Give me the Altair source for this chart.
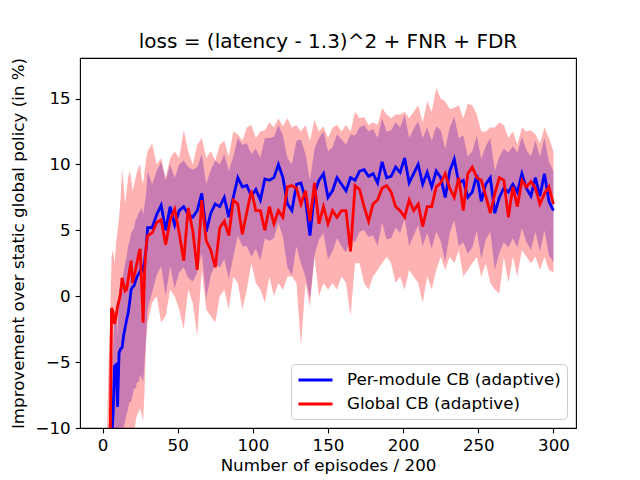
import altair as alt
import pandas as pd

# Episode index (x 200 episodes); finer steps where the curves climb steeply
episodes = list(range(1, 31)) + list(range(33, 301, 3))

# Per-module contextual bandit: mean improvement and its spread
per_module_mean = [
    -30, -26, -22, -18, -14, -11, -9, -5.3, -5.2, -8.4,
    -4.3, -4.0, -3.9, -3.0, -2.4, -1.8, -1.3, -0.5, 0.5, 0.7,
    0.8, 1.2, 1.5, 1.7, 1.9, 2.2, 2.0, 2.7, 3.6, 5.2,
    5.2, 6.2, 6.9, 5.0, 6.8, 5.4, 6.5, 6.8, 6.2, 6.0,
    6.5, 7.8, 4.9, 6.3, 7.0, 6.8, 7.5, 6.0, 7.5, 9.0,
    8.3, 8.4, 7.6, 8.1, 7.3, 8.9, 8.8, 9.0, 10.0, 9.0,
    7.0, 6.5, 8.5, 8.6, 7.4, 4.6, 7.8, 8.8, 9.3, 7.5,
    8.0, 9.0, 8.5, 8.0, 9.0, 8.8, 9.5, 9.6, 9.1, 9.3,
    8.6, 10.2, 9.0, 9.1, 9.8, 9.4, 10.5, 8.6, 9.3, 10.0,
    8.5, 9.4, 8.3, 9.5, 9.0, 7.5, 9.5, 10.4, 8.6, 8.8,
    7.5, 7.9, 9.2, 7.2, 8.5, 9.0, 6.3, 7.5, 8.2, 7.9,
    8.5, 7.9, 9.3, 8.2, 7.6, 9.0, 7.6, 9.3, 7.2, 6.5,
]
per_module_hi = [
    -24, -20, -16, -12, -9, -6, -4, -1.5, -1.0, -3.0,
    0.5, 0.8, 1.0, 1.8, 2.5, 3.0, 3.8, 4.2, 4.8, 5.0,
    5.2, 5.8, 6.0, 6.3, 6.5, 6.7, 6.2, 7.0, 7.8, 9.5,
    8.5, 9.5, 10.2, 8.8, 10.0, 9.0, 10.0, 10.3, 9.8, 9.6,
    9.8, 10.8, 8.5, 9.6, 10.3, 10.0, 10.8, 9.5, 10.6, 12.0,
    11.5, 11.6, 10.8, 11.2, 10.5, 12.0, 12.0, 12.1, 13.0, 12.2,
    10.5, 10.0, 11.8, 11.9, 10.8, 8.8, 11.2, 12.0, 12.5, 11.0,
    11.3, 12.3, 11.9, 11.5, 12.3, 12.2, 12.8, 13.0, 12.5, 12.7,
    12.0, 13.5, 12.5, 12.6, 13.2, 12.8, 13.8, 12.0, 12.7, 13.3,
    12.0, 12.8, 11.8, 12.9, 12.6, 11.2, 12.8, 13.6, 12.0, 12.2,
    10.6, 11.0, 12.2, 10.4, 11.4, 12.0, 9.5, 10.6, 11.2, 10.9,
    11.4, 10.9, 12.1, 11.1, 10.6, 11.8, 10.6, 12.0, 10.2, 9.5,
]
per_module_lo = [
    -36, -32, -28, -24, -20, -16, -14, -12, -12, -14,
    -11.5, -11, -10.5, -10, -9.5, -9, -8.5, -8, -8, -7.5,
    -7, -7, -6.5, -6.5, -6.0, -6.2, -6.5, -5, -3, -1,
    0.3, 1.6, 2.3, 0.0, 2.3, 0.6, 1.8, 2.2, 1.4, 1.1,
    1.8, 3.3, -0.2, 1.6, 2.4, 2.2, 2.8, 1.3, 3.0, 4.6,
    3.8, 3.8, 3.0, 3.6, 2.7, 4.4, 4.2, 4.4, 5.6, 4.5,
    2.2, 1.6, 3.8, 2.5, 1.5, -0.2, 3.1, 4.3, 4.8, 2.8,
    3.4, 4.4, 3.8, 3.3, 4.4, 4.1, 4.9, 5.0, 4.5, 4.6,
    3.8, 5.6, 4.3, 4.4, 5.2, 4.8, 5.9, 3.8, 4.6, 5.4,
    3.8, 4.8, 3.6, 4.9, 4.2, 2.6, 4.8, 5.8, 3.8, 4.1,
    3.2, 3.7, 5.0, 2.8, 4.3, 4.9, 2.0, 3.3, 4.1, 3.7,
    4.4, 3.7, 5.2, 4.1, 3.5, 4.9, 3.4, 5.0, 3.1, 2.6,
]

# Global contextual bandit: mean improvement and its spread
global_mean = [
    -32, -27, -22, -17, -12, -0.9, -1.2, -2.1, -1.5, -0.8,
    -0.3, 0.2, 1.4, 0.9, 0.4, 0.5, 1.2, 2.0, 2.7, 1.0,
    1.6, 2.0, 2.6, 3.2, 3.6, 1.0, -2.0, 2.0, 3.8, 4.6,
    4.8, 5.6, 5.8, 3.9, 5.8, 6.6, 4.8, 2.7, 6.7, 5.0,
    2.0, 7.3, 4.2, 3.5, 2.2, 5.2, 5.7, 4.6, 7.3, 7.0,
    4.7, 6.4, 8.0, 6.5, 6.5, 5.0, 6.8, 5.5, 6.5, 6.0,
    8.3, 8.4, 8.2, 7.0, 8.0, 5.7, 8.6, 5.5, 6.8, 5.5,
    6.5, 6.0, 6.5, 6.5, 3.4, 8.4, 8.1, 6.8, 5.7, 7.0,
    7.3, 8.2, 8.4, 7.9, 6.8, 6.5, 6.0, 7.3, 6.5, 7.0,
    5.3, 6.8, 6.8, 8.3, 8.6, 9.3, 8.2, 7.5, 9.0, 6.5,
    9.3, 9.8, 9.0, 8.8, 7.6, 6.3, 7.8, 9.0, 8.8, 6.0,
    8.3, 6.8, 8.8, 8.3, 8.7, 8.2, 7.0, 7.8, 8.3, 7.0,
]
global_hi = [
    -20, -15, -10, -5, -2, 3.0, 3.5, 2.5, 4.0, 5.0,
    6.0, 7.5, 9.7, 8.5, 7.0, 8.0, 9.0, 9.5, 9.0, 8.0,
    8.5, 9.0, 9.5, 9.8, 10.0, 9.0, 8.5, 9.5, 10.5, 11.0,
    11.6, 10.0, 10.5, 9.0, 10.5, 11.0, 10.5, 12.6, 11.0, 10.0,
    11.5, 12.0, 10.5, 11.0, 10.3, 11.5, 11.8, 10.6, 12.5, 12.3,
    11.8, 12.8, 13.0, 12.0, 12.5, 12.6, 13.2, 12.8, 13.5, 12.9,
    13.5, 12.8, 13.0, 12.5, 13.0, 11.8, 13.4, 12.5, 12.9, 12.0,
    12.8, 13.0, 12.5, 13.0, 12.5, 14.0, 13.5, 13.6, 13.0, 13.2,
    13.0, 14.3, 13.8, 13.5, 13.8, 13.8, 14.0, 13.5, 14.0, 14.5,
    13.2, 14.8, 14.0, 15.8, 15.0, 14.8, 14.2, 14.3, 14.5, 13.5,
    14.6, 14.5, 13.8, 12.5, 12.5, 12.8, 12.8, 13.2, 13.0, 12.0,
    12.5, 11.5, 12.8, 12.5, 12.6, 12.3, 11.6, 12.8, 12.0, 11.0,
]
global_lo = [
    -45, -40, -35, -30, -25, -14, -15, -16, -15, -16,
    -14, -13, -13, -12.5, -12, -11.5, -11, -10.5, -10, -11,
    -10.5, -9.5, -9, -8.8, -8.5, -9, -9.5, -7, -3.4, -2,
    -0.5, 0.0, -2.0, -1.5, 0.5, 0.0, -1.0, -2.5, 0.5, -0.5,
    -3.0, 2.0, -1.0, -1.5, -2.0, 0.0, 0.5, -1.0, 1.5, 1.0,
    -1.0, 0.5, 2.5, 1.0, 0.5, -0.5, 1.5, 0.0, 1.0, 0.5,
    1.5, 1.5, 1.0, -3.8, 1.0, -0.8, 3.0, 0.0, 1.0, 0.5,
    1.0, 0.5, 1.5, 1.0, -1.5, 2.5, 2.5, 1.0, 0.5, 1.5,
    2.0, 2.5, 3.0, 2.5, 1.0, 1.5, 0.5, 2.0, 1.5, 1.0,
    -0.5, 1.5, 0.5, 2.0, 3.0, 2.0, 3.0, 2.5, 3.5, 1.5,
    2.0, 2.5, 3.0, 1.5, 2.5, 1.0, 0.5, 0.2, 3.0, 1.0,
    3.0, 1.5, 3.5, 3.0, 2.5, 3.0, 2.0, 3.0, 2.0, 1.8,
]

series_names = ["Per-module CB (adaptive)", "Global CB (adaptive)"]
series_colors = ["#0000ff", "#ff0000"]

bands = pd.DataFrame({
    "episode": episodes,
    "pm_lo": per_module_lo, "pm_hi": per_module_hi,
    "gl_lo": global_lo, "gl_hi": global_hi,
})
lines = pd.concat([
    pd.DataFrame({"episode": episodes, "value": per_module_mean,
                  "series": series_names[0], "order": 0}),
    pd.DataFrame({"episode": episodes, "value": global_mean,
                  "series": series_names[1], "order": 1}),
])

x_scale = alt.Scale(domain=[-15, 315], nice=False, zero=False)
y_scale = alt.Scale(domain=[-10, 18.08], nice=False, zero=False)
x_axis = alt.Axis(values=[0, 50, 100, 150, 200, 250, 300], format="d",
                  title="Number of episodes / 200", grid=False)
y_axis = alt.Axis(values=[-10, -5, 0, 5, 10, 15], format="d",
                  title="Improvement over static global policy (in %)", grid=False)

pm_band = alt.Chart(bands).mark_area(
    color="#0000ff", opacity=0.3, clip=True
).encode(
    x=alt.X("episode:Q", scale=x_scale, axis=x_axis),
    y=alt.Y("pm_lo:Q", scale=y_scale, axis=y_axis),
    y2="pm_hi:Q",
)
global_band = alt.Chart(bands).mark_area(
    color="#ff0000", opacity=0.3, clip=True
).encode(
    x=alt.X("episode:Q", scale=x_scale),
    y=alt.Y("gl_lo:Q", scale=y_scale),
    y2="gl_hi:Q",
)
mean_lines = alt.Chart(lines).mark_line(strokeWidth=2.8, clip=True).encode(
    x=alt.X("episode:Q", scale=x_scale),
    y=alt.Y("value:Q", scale=y_scale),
    color=alt.Color("series:N",
                    scale=alt.Scale(domain=series_names, range=series_colors),
                    sort=series_names,
                    legend=alt.Legend(title=None)),
    order=alt.Order("order:Q"),
)

chart = alt.layer(pm_band, global_band, mean_lines).properties(
    width=496,
    height=370,
    autosize=alt.AutoSizeParams(type="none"),
    padding={"left": 80, "top": 58, "right": 64, "bottom": 52},
    title=alt.TitleParams(
        "loss = (latency - 1.3)^2 + FNR + FDR",
        fontSize=20, fontWeight="normal", font="DejaVu Sans",
        color="black", anchor="middle", offset=8, baseline="alphabetic",
        dy=19,
    ),
).configure(
    font="DejaVu Sans",
    background="white",
).configure_view(
    stroke="black", strokeWidth=1.1,
).configure_axis(
    domain=False,
    ticks=True, tickColor="black", tickSize=4.9, tickWidth=1.1,
    labelFont="DejaVu Sans", labelFontSize=16.7, labelColor="black",
    labelPadding=4.9,
    titleFont="DejaVu Sans", titleFontSize=16.7, titleFontWeight="normal",
    titleColor="black",
).configure_axisX(
    titlePadding=3,
).configure_axisY(
    titlePadding=7,
).configure_legend(
    orient="bottom-right", offset=9,
    fillColor="rgba(255,255,255,0.8)", strokeColor="#cccccc",
    cornerRadius=4, padding=6,
    labelFont="DejaVu Sans", labelFontSize=16.7, labelColor="black",
    labelLimit=400,
    # short horizontal stroke drawn to the right of its slot
    symbolType="M-1,0H3", symbolSize=289, symbolStrokeWidth=2.8,
    labelOffset=30, rowPadding=5,
)

chart.save("out.html", embed_options={"renderer": "svg", "actions": False})
